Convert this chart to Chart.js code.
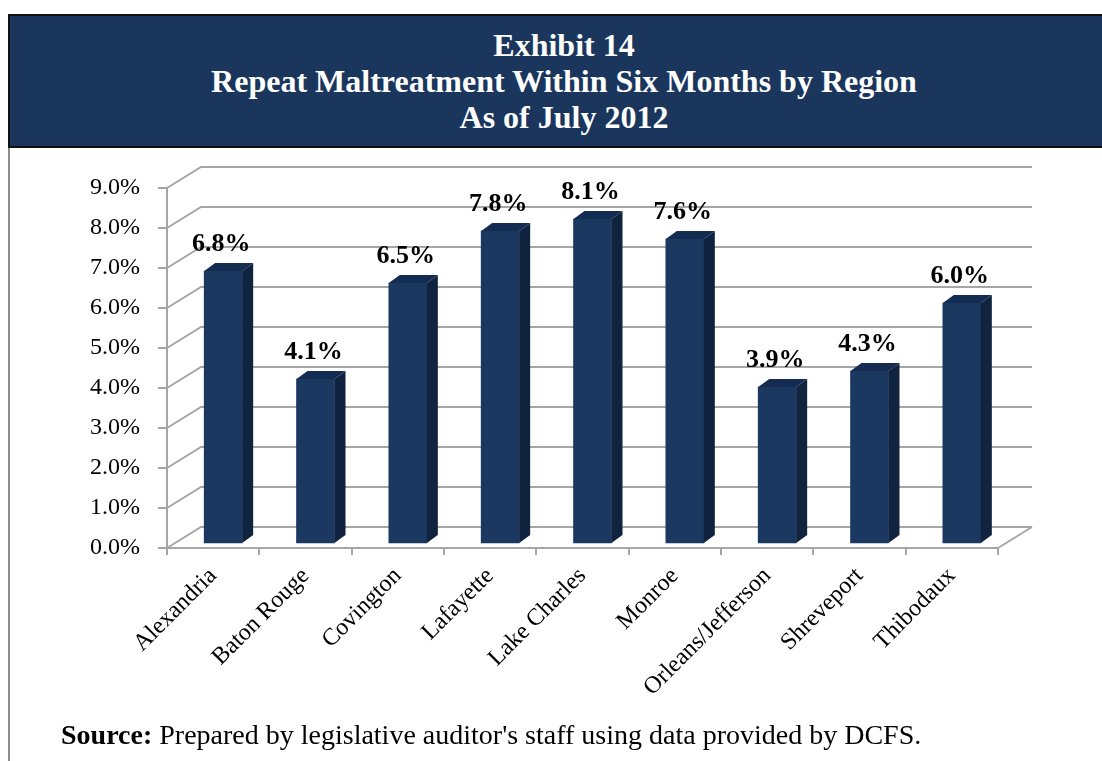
<!DOCTYPE html>
<html>
<head>
<meta charset="utf-8">
<script src="https://cdn.jsdelivr.net/npm/chart.js@4.4.1/dist/chart.umd.min.js"></script>
<style>
  html, body { margin: 0; padding: 0; background: #fff; }
  body { width: 1102px; height: 761px; position: relative; overflow: hidden;
         font-family: "Liberation Serif", "Times New Roman", serif; }
  #band { position: absolute; left: 8px; top: 14px; width: 1110px; height: 130px;
          background: #1a365d; border: 2px solid #111; z-index: 2; }
  #band div { position: absolute; left: 0; width: 1108px; text-align: center;
              color: #fff; font-weight: bold; font-size: 32px; line-height: 36px; }
  #edge { position: absolute; left: 8px; top: 146px; width: 2px; height: 620px; background: #8c8c8c; }
  #source { position: absolute; left: 61px; top: 719px; font-size: 28px; color: #000; white-space: nowrap; }
  canvas { position: absolute; left: 0; top: 0; }
</style>
</head>
<body>
<div id="band">
  <div style="top:11px">Exhibit 14</div>
  <div style="top:47px">Repeat Maltreatment Within Six Months by Region</div>
  <div style="top:83px">As of July 2012</div>
</div>
<div id="edge"></div>
<canvas id="chart" width="1102" height="761"></canvas>
<div id="source"><b>Source:</b> Prepared by legislative auditor's staff using data provided by DCFS.</div>
<script>
const regions = ["Alexandria", "Baton Rouge", "Covington", "Lafayette", "Lake Charles",
                 "Monroe", "Orleans/Jefferson", "Shreveport", "Thibodaux"];
const rates = [6.8, 4.1, 6.5, 7.8, 8.1, 7.6, 3.9, 4.3, 6.0];
const rateTicks = [0, 1, 2, 3, 4, 5, 6, 7, 8, 9];

const FONT = "'Liberation Serif', 'Times New Roman', serif";
const GRID = "#a6a6a6";
const FRONT = "#1b3861";
const SIDE = "#10233f";
const TOP = "#142c51";

// depth of the back wall and of each bar
const WALL_DX = 34, WALL_DY = -21;
const BAR_DX = 11, BAR_DY = -8;

const box3d = {
  id: "box3d",
  beforeDatasetsDraw(chart) {
    const { ctx, chartArea, scales } = chart;
    const y = scales.y;
    ctx.save();
    ctx.strokeStyle = GRID;
    ctx.lineWidth = 2;
    rateTicks.forEach(v => {
      const py = y.getPixelForValue(v);
      ctx.beginPath();
      ctx.moveTo(chartArea.left, py);
      ctx.lineTo(chartArea.left + WALL_DX, py + WALL_DY);
      ctx.lineTo(chartArea.right + WALL_DX, py + WALL_DY);
      ctx.stroke();
    });
    const p0 = y.getPixelForValue(0);
    ctx.beginPath();
    ctx.moveTo(chartArea.right, p0);
    ctx.lineTo(chartArea.right + WALL_DX, p0 + WALL_DY);
    ctx.stroke();
    ctx.restore();
  },
  afterDatasetsDraw(chart) {
    const { ctx } = chart;
    const meta = chart.getDatasetMeta(0);
    ctx.save();
    meta.data.forEach((bar, i) => {
      const { x, y, base, width } = bar.getProps(["x", "y", "base", "width"], true);
      const l = x - width / 2, r = x + width / 2;
      // side face
      ctx.fillStyle = SIDE;
      ctx.beginPath();
      ctx.moveTo(r, y);
      ctx.lineTo(r + BAR_DX, y + BAR_DY);
      ctx.lineTo(r + BAR_DX, base + BAR_DY);
      ctx.lineTo(r, base);
      ctx.closePath();
      ctx.fill();
      // top face
      ctx.fillStyle = TOP;
      ctx.beginPath();
      ctx.moveTo(l, y);
      ctx.lineTo(l + BAR_DX, y + BAR_DY);
      ctx.lineTo(r + BAR_DX, y + BAR_DY);
      ctx.lineTo(r, y);
      ctx.closePath();
      ctx.fill();
      // value label
      ctx.fillStyle = "#000";
      ctx.font = "bold 26px " + FONT;
      ctx.textAlign = "center";
      ctx.textBaseline = "alphabetic";
      ctx.fillText(rates[i].toFixed(1) + "%", x - 2, y - 20);
    });
    ctx.restore();
  }
};

new Chart(document.getElementById("chart").getContext("2d"), {
  type: "bar",
  data: {
    labels: regions,
    datasets: [{
      data: rates.map((v, i) => ({ x: i, y: v })),
      xAxisID: "xb",
      yAxisID: "yb",
      backgroundColor: FRONT,
      borderWidth: 0,
      barThickness: 38
    }]
  },
  options: {
    responsive: false,
    animation: false,
    devicePixelRatio: 1,
    layout: { padding: { left: 0, right: 104, top: 188, bottom: 0 } },
    plugins: { legend: { display: false }, tooltip: { enabled: false } },
    scales: {
      x: {
        type: "category",
        offset: true,
        grid: { offset: true, drawOnChartArea: false, color: GRID, lineWidth: 2, tickLength: 7 },
        border: { color: GRID, width: 2 },
        ticks: { color: "#000", font: { family: FONT, size: 24 }, minRotation: 45, maxRotation: 45, padding: 7 },
        afterFit: s => { s.height = 213; }
      },
      y: {
        min: 0,
        max: 9,
        grid: { drawOnChartArea: false, color: GRID, lineWidth: 2, tickLength: 9 },
        border: { color: GRID, width: 2 },
        ticks: { stepSize: 1, color: "#000", font: { family: FONT, size: 24 }, padding: 18,
                 callback: v => v.toFixed(1) + "%" },
        afterFit: s => { s.width = 167; }
      },
      xb: { type: "linear", display: false, offset: false,
            min: -0.5 - 10 / 92.33, max: 8.5 - 10 / 92.33 },
      yb: { type: "linear", display: false, min: -0.125, max: 8.875 }
    }
  },
  plugins: [box3d]
});
</script>
</body>
</html>
